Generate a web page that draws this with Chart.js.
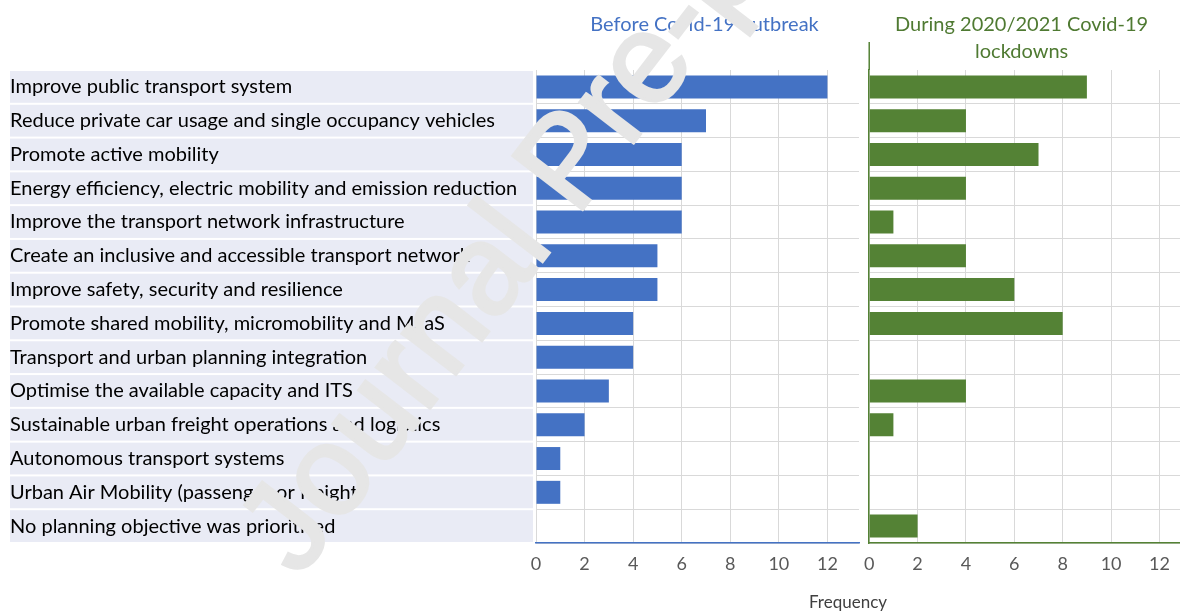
<!DOCTYPE html>
<html>
<head>
<meta charset="utf-8">
<script src="https://cdn.jsdelivr.net/npm/chart.js@4.4.1/dist/chart.umd.min.js"></script>
<style>
    body { margin: 0; background: #fff; width: 1180px; height: 614px; position: relative; overflow: hidden; font-family: Lato, sans-serif; }
    #beforeChart { position: absolute; left: 0; top: 0; }
    #duringChart { position: absolute; left: 854px; top: 0; }
    #freq { position: absolute; left: 748px; width: 200px; top: 591px; text-align: center; font-size: 17px; color: #404040; }
</style>
</head>
<body>
<canvas id="beforeChart" width="860" height="614"></canvas>
<canvas id="duringChart" width="326" height="614"></canvas>
<div id="freq">Frequency</div>
<script>
// Planning objectives (categories)
const objectives = [
    'Improve public transport system',
    'Reduce private car usage and single occupancy vehicles',
    'Promote active mobility',
    'Energy efficiency, electric mobility and emission reduction',
    'Improve the transport network infrastructure',
    'Create an inclusive and accessible transport network',
    'Improve safety, security and resilience',
    'Promote shared mobility, micromobility and MaaS',
    'Transport and urban planning integration',
    'Optimise the available capacity and ITS',
    'Sustainable urban freight operations and logistics',
    'Autonomous transport systems',
    'Urban Air Mobility (passenger or freight)',
    'No planning objective was prioritised'
];

// Frequencies
const beforeCovid = [12, 7, 6, 6, 6, 5, 5, 4, 4, 3, 2, 1, 1, 0];
const duringCovid = [9, 4, 7, 4, 1, 4, 6, 8, 0, 4, 1, 0, 0, 2];

// Frequency axis ticks
const freqTicks = [0, 2, 4, 6, 8, 10, 12];

const blue = '#4472c4';
const green = '#548235';
const gridColor = '#d9d9d9';
const tickColor = '#595959';

// Draw lavender bands behind the category labels
const labelBands = {
    id: 'labelBands',
    beforeDraw(chart) {
        const y = chart.scales.y;
        const ctx = chart.ctx;
        const step = y.getPixelForTick(1) - y.getPixelForTick(0);
        ctx.save();
        ctx.fillStyle = '#e9ebf5';
        y.ticks.forEach((t, i) => {
            const c = y.getPixelForTick(i);
            ctx.fillRect(10, c - step / 2 + 1, chart.chartArea.left - 13, step - 2);
        });
        ctx.restore();
    }
};

// Panel title above each chart area
const panelTitle = {
    id: 'panelTitle',
    afterDraw(chart, args, opts) {
        const ctx = chart.ctx;
        const cx = (chart.chartArea.left + chart.chartArea.right) / 2 + (opts.shift || 0);
        ctx.save();
        ctx.font = '20px Lato';
        ctx.fillStyle = opts.color;
        ctx.textAlign = 'center';
        ctx.textBaseline = 'middle';
        opts.lines.forEach((line, i) => ctx.fillText(line, cx, 25 + i * 27));
        ctx.restore();
    }
};

// Journal watermark
const watermark = {
    id: 'watermark',
    afterDraw(chart) {
        const ctx = chart.ctx;
        ctx.save();
        ctx.translate(299, 579);
        ctx.rotate(-52.5 * Math.PI / 180);
        ctx.font = '128px "Liberation Sans"';
        ctx.fillStyle = '#e6e6e6';
        ctx.strokeStyle = '#e6e6e6';
        ctx.lineWidth = 3;
        ctx.fillText('Journal Pre-proof', 0, 0);
        ctx.strokeText('Journal Pre-proof', 0, 0);
        ctx.restore();
    }
};

// Extend the green axis line up into the title area
const axisExtend = {
    id: 'axisExtend',
    afterDraw(chart) {
        const ctx = chart.ctx;
        const x = chart.chartArea.left;
        ctx.save();
        ctx.strokeStyle = green;
        ctx.lineWidth = 1.5;
        ctx.beginPath();
        ctx.moveTo(x, 42);
        ctx.lineTo(x, chart.chartArea.top);
        ctx.stroke();
        ctx.restore();
    }
};

function xScale(color, max) {
    return {
        min: 0,
        max: max,
        ticks: { color: tickColor, font: { family: 'Lato', size: 18 }, padding: 10 },
        afterBuildTicks: s => { s.ticks = freqTicks.map(v => ({ value: v })); },
        afterFit: s => { s.height = 71; },
        grid: { color: gridColor, drawTicks: false },
        border: { color: color, width: 1.5 }
    };
}

// hide the top row boundary line
const rowGrid = { color: c => c.index === 0 ? 'rgba(0,0,0,0)' : gridColor, drawTicks: false };

new Chart(document.getElementById('beforeChart').getContext('2d'), {
    type: 'bar',
    data: {
        labels: objectives,
        datasets: [{
            label: 'Before Covid-19 outbreak',
            data: beforeCovid,
            backgroundColor: blue,
            barPercentage: 0.68,
            categoryPercentage: 1
        }]
    },
    options: {
        indexAxis: 'y',
        responsive: false,
        animation: false,
        layout: { padding: { top: 70, left: 10, right: 1, bottom: 0 } },
        plugins: {
            legend: { display: false },
            tooltip: { enabled: false },
            panelTitle: { lines: ['Before Covid-19 outbreak'], color: blue, shift: 7 }
        },
        scales: {
            x: xScale(blue, 13.3),
            y: {
                ticks: { color: '#000', font: { family: 'Lato', size: 20 }, crossAlign: 'far' },
                afterFit: s => { s.width = 526; },
                grid: rowGrid,
                border: { display: false }
            }
        }
    },
    plugins: [labelBands, panelTitle, watermark]
});

new Chart(document.getElementById('duringChart').getContext('2d'), {
    type: 'bar',
    data: {
        labels: objectives,
        datasets: [{
            label: 'During 2020/2021 Covid-19 lockdowns',
            data: duringCovid,
            backgroundColor: green,
            barPercentage: 0.68,
            categoryPercentage: 1
        }]
    },
    options: {
        indexAxis: 'y',
        responsive: false,
        animation: false,
        layout: { padding: { top: 70, left: 0, right: 0, bottom: 0 } },
        plugins: {
            legend: { display: false },
            tooltip: { enabled: false },
            panelTitle: { lines: ['During 2020/2021 Covid-19', 'lockdowns'], color: '#4f7a32', shift: -3 }
        },
        scales: {
            x: xScale(green, 12.85),
            y: {
                ticks: { display: false },
                afterFit: s => { s.width = 3; },
                grid: rowGrid,
                border: { color: green, width: 1.5 }
            }
        }
    },
    plugins: [panelTitle, axisExtend]
});
</script>
</body>
</html>
